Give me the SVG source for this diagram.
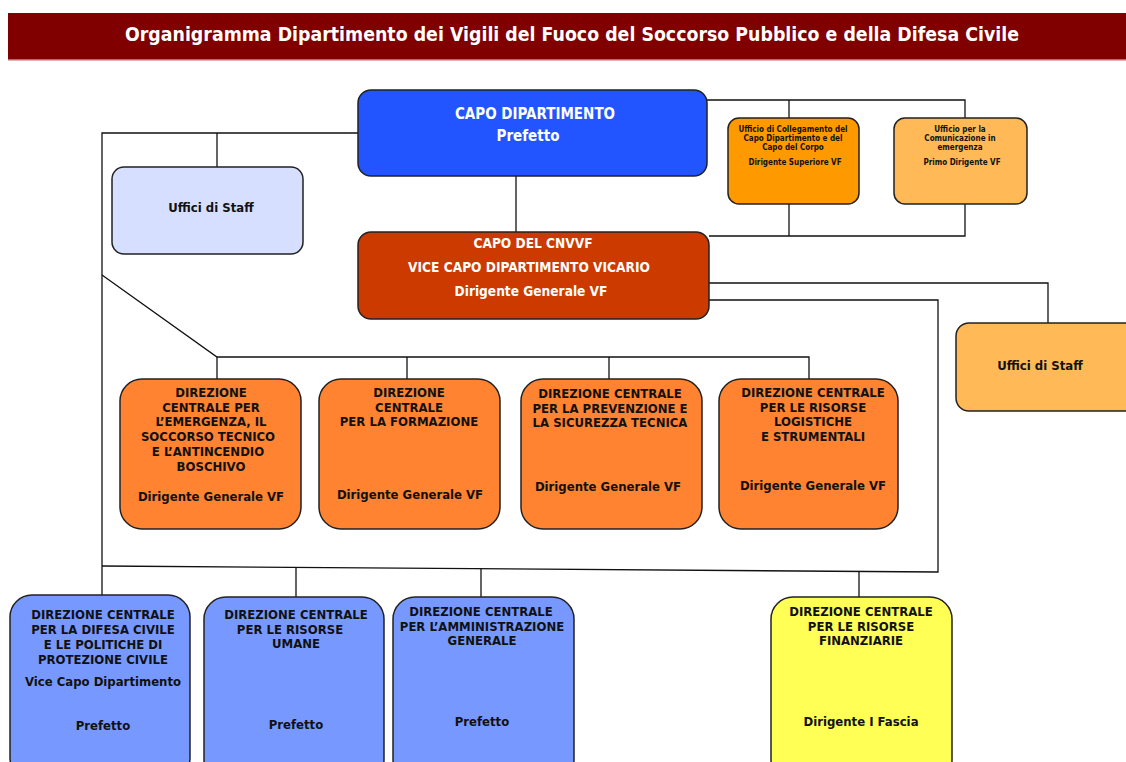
<svg xmlns="http://www.w3.org/2000/svg" width="1126" height="762" viewBox="0 0 1126 762">
<style>
  .box { stroke: #222; stroke-width: 1.5; }
  .c { fill: none; stroke: #111; stroke-width: 1.3; }
  text { font-family: "DejaVu Sans Condensed", "DejaVu Sans", sans-serif; font-weight: bold; text-anchor: middle; }
  .w { fill: #fff; }
  .k { fill: #111; }
  .t12 { font-size: 13px; }
  .t13 { font-size: 15px; }
  .t135 { font-size: 13.6px; }
  .t7 { font-size: 8px; }
</style>
<rect x="0" y="0" width="1126" height="762" fill="#fff"/>
<g id="title">
  <rect x="8" y="13" width="1118" height="47" fill="#800000"/>
  <rect x="8" y="59" width="1118" height="1.5" fill="#b46a6a"/>
  <text x="572" y="41" class="w" style="font-size:19px" textLength="894" lengthAdjust="spacingAndGlyphs">Organigramma Dipartimento dei Vigili del Fuoco del Soccorso Pubblico e della Difesa Civile</text>
</g>
<g id="connectors">
  <polyline class="c" points="707,100 965,100 965,118"/>
  <line class="c" x1="789" y1="100" x2="789" y2="118"/>
  <polyline class="c" points="709,236 965,236 965,204"/>
  <line class="c" x1="789" y1="204" x2="789" y2="236"/>
  <line class="c" x1="516" y1="176" x2="516" y2="232"/>
  <polyline class="c" points="358,133 102,133 102,597"/>
  <line class="c" x1="217" y1="133" x2="217" y2="167"/>
  <polyline class="c" points="102,275 217,357 809,357 809,379"/>
  <line class="c" x1="217" y1="357" x2="217" y2="379"/>
  <line class="c" x1="407" y1="357" x2="407" y2="379"/>
  <line class="c" x1="609" y1="357" x2="609" y2="379"/>
  <polyline class="c" points="709,283 1048,283 1048,323"/>
  <polyline class="c" points="709,300 938,300 938,572 102,566"/>
  <line class="c" x1="296" y1="567" x2="296" y2="597"/>
  <line class="c" x1="481" y1="568" x2="481" y2="597"/>
  <line class="c" x1="859" y1="571" x2="859" y2="597"/>
</g>
<g id="capo-dipartimento">
  <rect class="box" x="358" y="90" width="349" height="86" rx="13" fill="#2255FF"/>
  <text x="535" y="119" class="w t13">CAPO DIPARTIMENTO</text>
  <text x="528" y="141" class="w t13">Prefetto</text>
</g>
<g id="ufficio-collegamento">
  <rect class="box" x="728" y="118" width="131" height="86" rx="11" fill="#FF9900"/>
  <text class="k t7" x="793" y="132">Ufficio di Collegamento del</text>
  <text class="k t7" x="793" y="141">Capo Dipartimento e del</text>
  <text class="k t7" x="793" y="150">Capo del Corpo</text>
  <text class="k t7" x="795" y="165">Dirigente Superiore VF</text>
</g>
<g id="ufficio-comunicazione">
  <rect class="box" x="894" y="118" width="133" height="86" rx="11" fill="#FFB957"/>
  <text class="k t7" x="960" y="132">Ufficio per la</text>
  <text class="k t7" x="960" y="141">Comunicazione in</text>
  <text class="k t7" x="960" y="150">emergenza</text>
  <text class="k t7" x="962" y="165">Primo Dirigente VF</text>
</g>
<g id="uffici-staff-sx">
  <rect class="box" x="112" y="167" width="191" height="87" rx="12" fill="#D6DFFF"/>
  <text class="k t12" x="211" y="212">Uffici di Staff</text>
</g>
<g id="capo-cnvvf">
  <rect class="box" x="358" y="232" width="351" height="87" rx="13" fill="#CD3A00"/>
  <text class="w t135" x="533" y="248">CAPO DEL CNVVF</text>
  <text class="w t135" x="529" y="272">VICE CAPO DIPARTIMENTO VICARIO</text>
  <text class="w t135" x="531" y="296">Dirigente Generale VF</text>
</g>
<g id="uffici-staff-dx">
  <rect class="box" x="956" y="323" width="190" height="88" rx="13" fill="#FFB957"/>
  <text class="k t12" x="1040" y="370">Uffici di Staff</text>
</g>
<g id="dc-emergenza">
  <rect class="box" x="120" y="379" width="181" height="150" rx="22" fill="#FF8330"/>
  <text class="k t12" x="211" y="397">DIREZIONE</text>
  <text class="k t12" x="211" y="412">CENTRALE PER</text>
  <text class="k t12" x="211" y="426">L’EMERGENZA, IL</text>
  <text class="k t12" x="208" y="441">SOCCORSO TECNICO</text>
  <text class="k t12" x="208" y="456">E L’ANTINCENDIO</text>
  <text class="k t12" x="211" y="471">BOSCHIVO</text>
  <text class="k t12" x="211" y="501">Dirigente Generale VF</text>
</g>
<g id="dc-formazione">
  <rect class="box" x="319" y="379" width="181" height="150" rx="22" fill="#FF8330"/>
  <text class="k t12" x="409" y="397">DIREZIONE</text>
  <text class="k t12" x="409" y="412">CENTRALE</text>
  <text class="k t12" x="409" y="426">PER LA FORMAZIONE</text>
  <text class="k t12" x="410" y="499">Dirigente Generale VF</text>
</g>
<g id="dc-prevenzione">
  <rect class="box" x="521" y="379" width="181" height="150" rx="22" fill="#FF8330"/>
  <text class="k t12" x="610" y="398">DIREZIONE CENTRALE</text>
  <text class="k t12" x="610" y="413">PER LA PREVENZIONE E</text>
  <text class="k t12" x="610" y="427">LA SICUREZZA TECNICA</text>
  <text class="k t12" x="608" y="491">Dirigente Generale VF</text>
</g>
<g id="dc-risorse-logistiche">
  <rect class="box" x="719" y="379" width="179" height="150" rx="22" fill="#FF8330"/>
  <text class="k t12" x="813" y="397">DIREZIONE CENTRALE</text>
  <text class="k t12" x="813" y="412">PER LE RISORSE</text>
  <text class="k t12" x="813" y="426">LOGISTICHE</text>
  <text class="k t12" x="813" y="441">E STRUMENTALI</text>
  <text class="k t12" x="813" y="490">Dirigente Generale VF</text>
</g>
<g id="dc-difesa-civile">
  <rect class="box" x="10" y="595" width="180" height="185" rx="22" fill="#7799FF"/>
  <text class="k t12" x="103" y="619">DIREZIONE CENTRALE</text>
  <text class="k t12" x="103" y="634">PER LA DIFESA CIVILE</text>
  <text class="k t12" x="103" y="649">E LE POLITICHE DI</text>
  <text class="k t12" x="103" y="664">PROTEZIONE CIVILE</text>
  <text class="k t12" x="103" y="686">Vice Capo Dipartimento</text>
  <text class="k t12" x="103" y="730">Prefetto</text>
</g>
<g id="dc-risorse-umane">
  <rect class="box" x="204" y="597" width="180" height="185" rx="22" fill="#7799FF"/>
  <text class="k t12" x="296" y="619">DIREZIONE CENTRALE</text>
  <text class="k t12" x="290" y="634">PER LE  RISORSE</text>
  <text class="k t12" x="296" y="648">UMANE</text>
  <text class="k t12" x="296" y="729">Prefetto</text>
</g>
<g id="dc-amministrazione">
  <rect class="box" x="393" y="597" width="181" height="185" rx="22" fill="#7799FF"/>
  <text class="k t12" x="481" y="616">DIREZIONE CENTRALE</text>
  <text class="k t12" x="482" y="631">PER L’AMMINISTRAZIONE</text>
  <text class="k t12" x="482" y="645">GENERALE</text>
  <text class="k t12" x="482" y="726">Prefetto</text>
</g>
<g id="dc-risorse-finanziarie">
  <rect class="box" x="771" y="597" width="181" height="185" rx="22" fill="#FFFF55"/>
  <text class="k t12" x="861" y="616">DIREZIONE CENTRALE</text>
  <text class="k t12" x="861" y="631">PER LE RISORSE</text>
  <text class="k t12" x="861" y="645">FINANZIARIE</text>
  <text class="k t12" x="861" y="726">Dirigente I Fascia</text>
</g>
</svg>
